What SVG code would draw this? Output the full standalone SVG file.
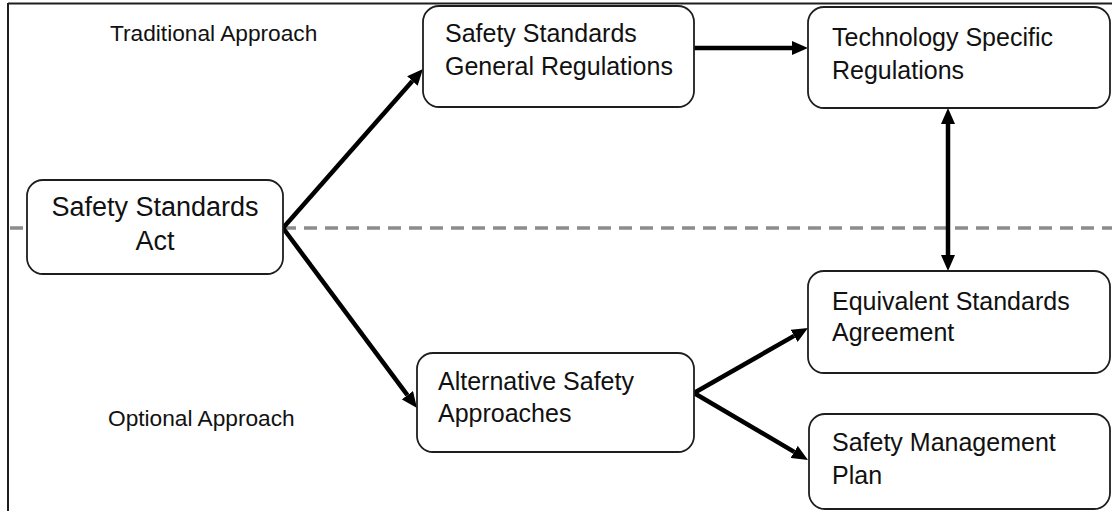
<svg xmlns="http://www.w3.org/2000/svg" width="1112" height="511" viewBox="0 0 1112 511">
<defs>
<style>
.box{fill:#fff;stroke:#1e1e1e;stroke-width:1.8}
.t{font-family:"Liberation Sans",Arial,sans-serif;font-size:25px;fill:#111}
.big{font-size:27px}
.lbl{font-family:"Liberation Sans",Arial,sans-serif;font-size:22.7px;fill:#111}
.arr{stroke:#000;stroke-width:4.5;fill:none}
</style>
<marker id="ah" markerUnits="userSpaceOnUse" markerWidth="16" markerHeight="14" viewBox="0 0 16 14" refX="0" refY="7" orient="auto-start-reverse">
<path d="M0,0 L16,7 L0,14 z" fill="#000"/>
</marker>
</defs>
<rect width="1112" height="511" fill="#fff"/>
<g id="frame" stroke="#1e1e1e" stroke-width="2" fill="none">
<line x1="8" y1="3.5" x2="1112" y2="3.5"/>
<line x1="8" y1="3" x2="8" y2="511"/>
</g>
<line id="divider" x1="10" y1="228" x2="1112" y2="228" stroke="#8c8c8c" stroke-width="3.5" stroke-dasharray="13 8"/>
<text class="lbl" x="110" y="41">Traditional Approach</text>
<text class="lbl" x="108" y="426">Optional Approach</text>
<g id="connectors">
<line class="arr" x1="283" y1="228" x2="412.4" y2="81" marker-end="url(#ah)"/>
<line class="arr" x1="694" y1="48" x2="792" y2="48" marker-end="url(#ah)"/>
<line class="arr" x1="948" y1="124" x2="948" y2="255" marker-start="url(#ah)" marker-end="url(#ah)"/>
<line class="arr" x1="283" y1="228" x2="407.4" y2="395.2" marker-end="url(#ah)"/>
<line class="arr" x1="694" y1="393" x2="794.1" y2="335.9" marker-end="url(#ah)"/>
<line class="arr" x1="694" y1="393" x2="794.2" y2="451.9" marker-end="url(#ah)"/>
</g>
<g id="act">
<rect class="box" x="27" y="180" width="256" height="94" rx="16"/>
<text class="t big" x="155" y="216" text-anchor="middle">Safety Standards</text>
<text class="t big" x="155" y="250" text-anchor="middle">Act</text>
</g>
<g id="general">
<rect class="box" x="423" y="6" width="271" height="101" rx="16"/>
<text class="t" x="445" y="42">Safety Standards</text>
<text class="t" x="445" y="75">General Regulations</text>
</g>
<g id="tech">
<rect class="box" x="808" y="7" width="302" height="101" rx="16"/>
<text class="t" x="832" y="46">Technology Specific</text>
<text class="t" x="832" y="79">Regulations</text>
</g>
<g id="equivalent">
<rect class="box" x="808" y="271" width="302" height="102" rx="16"/>
<text class="t" x="832" y="310">Equivalent Standards</text>
<text class="t" x="832" y="341">Agreement</text>
</g>
<g id="alternative">
<rect class="box" x="417" y="353" width="277" height="99" rx="16"/>
<text class="t" x="438" y="390">Alternative Safety</text>
<text class="t" x="438" y="422">Approaches</text>
</g>
<g id="sms">
<rect class="box" x="809" y="414" width="301" height="95" rx="16"/>
<text class="t" x="832" y="451">Safety Management</text>
<text class="t" x="832" y="484">Plan</text>
</g>
</svg>
